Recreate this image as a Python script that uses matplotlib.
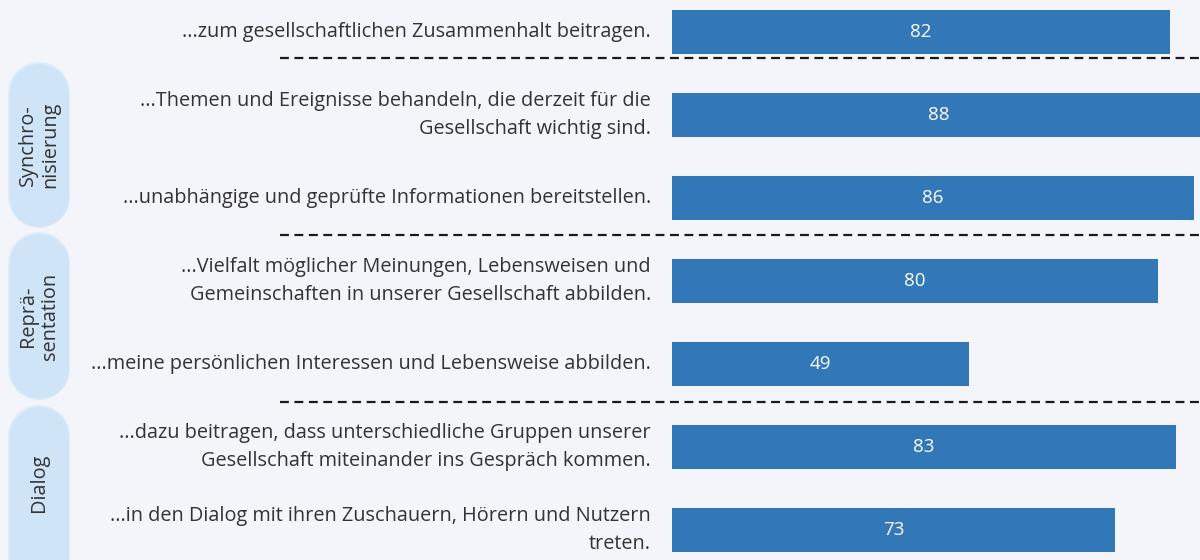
import matplotlib.pyplot as plt

plt.rcParams['font.family'] = ['Open Sans', 'DejaVu Sans']

labels = [
    "...zum gesellschaftlichen Zusammenhalt beitragen.",
    "...Themen und Ereignisse behandeln, die derzeit für die\nGesellschaft wichtig sind.",
    "...unabhängige und geprüfte Informationen bereitstellen.",
    "...Vielfalt möglicher Meinungen, Lebensweisen und\nGemeinschaften in unserer Gesellschaft abbilden.",
    "...meine persönlichen Interessen und Lebensweise abbilden.",
    "...dazu beitragen, dass unterschiedliche Gruppen unserer\nGesellschaft miteinander ins Gespräch kommen.",
    "...in den Dialog mit ihren Zuschauern, Hörern und Nutzern\ntreten.",
]
values = [82, 88, 86, 80, 49, 83, 73]
groups = ["Synchro-\nnisierung", "Reprä-\nsentation", "Dialog"]

bg = '#f4f5fa'
bar_col = '#3277b8'
txt_col = '#333333'

fig = plt.figure(figsize=(12, 5.6), dpi=100, facecolor=bg)

# overlay in pixel coords for the group pills
ov = fig.add_axes([0, 0, 1, 1])
ov.set_xlim(0, 1200)
ov.set_ylim(560, 0)
ov.axis('off')
ov.set_facecolor(bg)

pill_spans = [(62, 228), (232, 400), (405, 620)]
for (y0, y1), g in zip(pill_spans, groups):
    # thick line with round caps = pill shape (62 px wide)
    ov.plot([39, 39], [y0 + 31, y1 - 31], color='#dcedf9', lw=62 * 0.72,
            solid_capstyle='round', clip_on=False)
    ov.plot([39, 39], [y0 + 31, y1 - 31], color='#cfe4f6', lw=59 * 0.72,
            solid_capstyle='round', clip_on=False)
    yc = (y0 + min(y1, 560)) / 2
    ov.text(39, yc, g, rotation=90, ha='center', va='center',
            fontsize=14.3, color=txt_col, linespacing=1.2)

ax = fig.add_axes([672 / 1200, 0, 528 / 1200, 1])
ax.patch.set_alpha(0)
y = list(range(len(values)))
ax.barh(y, values, height=0.53, color=bar_col)
ax.set_xlim(0, 87)
ax.set_ylim(6.36, -0.386)
ax.axis('off')

for i, (lab, v) in enumerate(zip(labels, values)):
    ax.text(-3.5, i, lab, ha='right', va='center', fontsize=14.3,
            color=txt_col, linespacing=1.55, clip_on=False)
    ax.text(v / 2, i, str(v), ha='center', va='center', fontsize=13.5,
            color='white')

for s in [0.31, 2.45, 4.46]:
    ax.hlines(s, -64.6, 87, colors='#1a1a1a', linestyles=(0, (4, 2.5)),
              lw=1.6, clip_on=False)

fig.savefig('out.png', dpi=100, facecolor=bg)
